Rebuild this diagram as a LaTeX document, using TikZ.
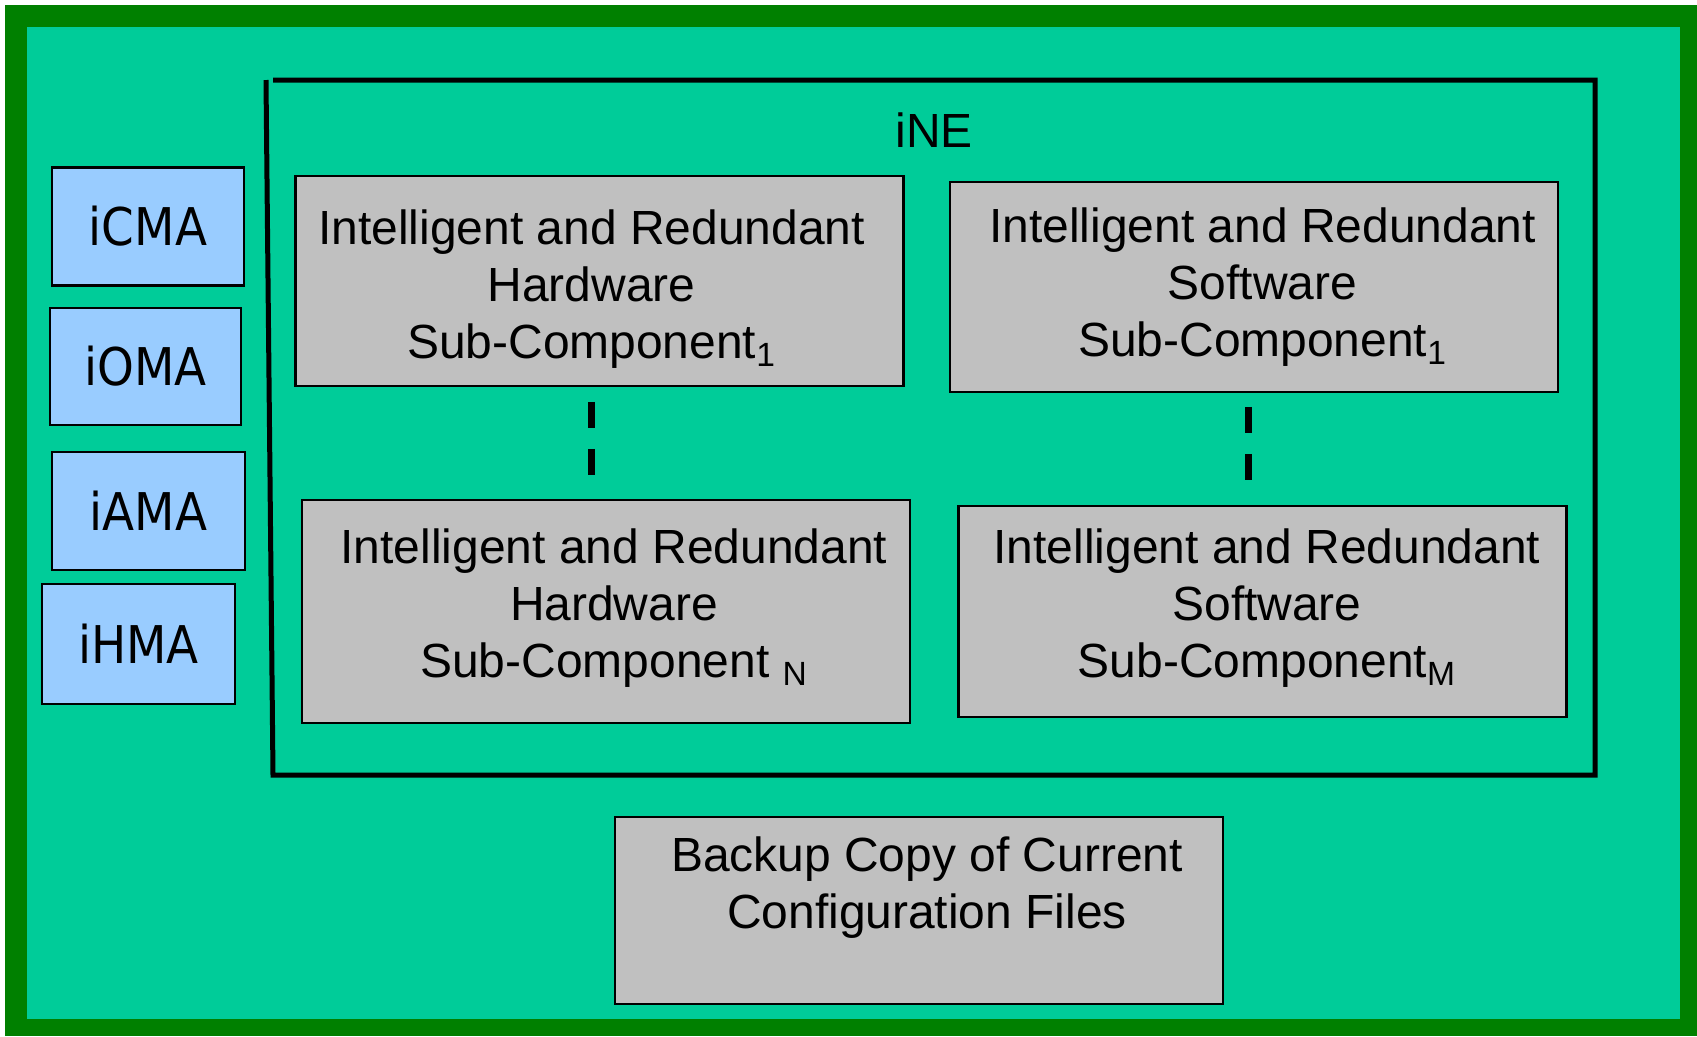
\documentclass[tikz,border=0pt]{standalone}
\usepackage{fontspec}
\setmainfont{Liberation Sans}
\newfontfamily\agentfont[FakeStretch=0.9]{DejaVu Sans}
\usetikzlibrary{calc}
\definecolor{bordergreen}{HTML}{008000}
\definecolor{panelteal}{HTML}{00CC99}
\definecolor{agentblue}{HTML}{99CCFF}
\definecolor{partgray}{HTML}{C0C0C0}
\tikzset{
  agentbox/.style={draw=black, fill=agentblue, line width=0.05cm, inner sep=0pt, outer sep=0pt,
    minimum width=3.84cm, minimum height=2.36cm, font=\agentfont\fontsize{29.6pt}{35pt}\selectfont},
  partbox/.style={draw=black, fill=partgray, line width=0.05cm, inner sep=0pt, outer sep=0pt,
    minimum width=12.17cm},
  parttext/.style={align=center, inner sep=0pt, font=\fontsize{27.3pt}{32.4pt}\selectfont},
  gapline/.style={line width=0.14cm, dash pattern=on 0.52cm off 0.42cm},
  inebox/.style={line width=0.1cm}
}
\begin{document}
\begin{tikzpicture}[x=0.02cm,y=-0.02cm]
\useasboundingbox (0,0) rectangle (1697,1036);
%\draw[step=100,very thin,color=gray] (0,0) grid (1697,1036);
\fill[white] (0,0) rectangle (1697,1036);
\fill[bordergreen] (5,5) rectangle (1697,1036);
\fill[panelteal] (27,27) rectangle (1680,1019);
% agents
\node[agentbox] (icma) at (148,226.5) {iCMA};
\node[agentbox, minimum width=3.82cm, minimum height=2.34cm] (ioma) at (145.5,366.5) {iOMA};
\node[agentbox, minimum width=3.86cm] (iama) at (148.5,511) {iAMA};
\node[agentbox, minimum width=3.86cm, minimum height=2.4cm] (ihma) at (138.5,644) {iHMA};
% iNE frame
\draw[inebox] (266,80) -- (273,775) -- (1595,775) -- (1595,80) -- (273,80);
\node[parttext] (ine) at (934,130) {iNE};
\node[partbox, minimum height=4.2cm] (hw1) at (599.5,281) {};
\node[parttext] (hw1t) at (591.5,289) {Intelligent and Redundant\\ Hardware\\ Sub-Component\textsubscript{1}};
\node[partbox, minimum height=4.2cm] (sw1) at (1254,287) {};
\node[parttext] (sw1t) at (1262.5,287) {Intelligent and Redundant\\ Software\\ Sub-Component\textsubscript{1}};
\node[partbox, minimum height=4.46cm] (hwN) at (606,611.5) {};
\node[parttext] (hwNt) at (614,608) {Intelligent and Redundant\\ Hardware\\ Sub-Component \textsubscript{N}};
\node[partbox, minimum height=4.22cm] (swM) at (1262.5,611.5) {};
\node[parttext] (swMt) at (1267,608) {Intelligent and Redundant\\ Software\\ Sub-Component\textsubscript{M}};
\draw[gapline] ($(hw1.south -| hw1t)+(0,16)$) -- ($(hwN.north -| hw1t)+(0,-24)$);
\draw[gapline] ($(sw1.south)+(-6,15)$) -- ($(swM.north)+(-14.5,-26)$);
% backup
\node[partbox, minimum height=3.74cm] (backup) at (919,910.5) {};
\node[parttext] (backupt) at (927,888) {Backup Copy of Current\\ Configuration Files};
\end{tikzpicture}
\end{document}
